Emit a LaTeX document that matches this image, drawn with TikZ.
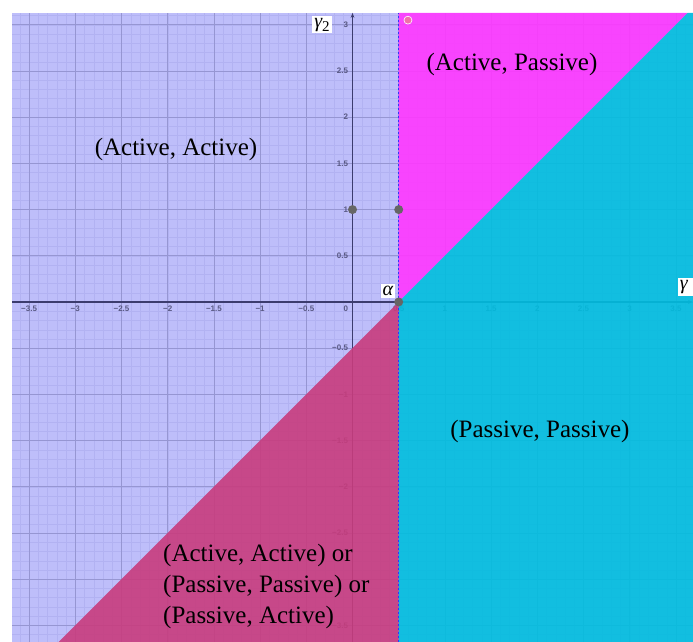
\documentclass[tikz,border=0pt]{standalone}
\usepackage{fontspec}
\setmainfont{Liberation Serif}
\newfontfamily\tickfont{Liberation Sans}
\usepackage{xcolor}
\usetikzlibrary{arrows.meta, positioning}

\definecolor{lavfill}{RGB}{190,190,250}
\definecolor{magfill}{RGB}{255,55,255}
\definecolor{cyanfill}{RGB}{0,190,222}
\definecolor{crimfill}{RGB}{200,60,125}
\definecolor{axisblue}{RGB}{60,60,110}
\definecolor{gridmajor}{RGB}{150,150,210}
\definecolor{gridminor}{RGB}{178,178,242}
\definecolor{iconpink}{RGB}{240,110,170}

\begin{document}
\begin{tikzpicture}[
  x=92.4pt, y=92.4pt,
  region/.style={
    fill opacity=0.9,
    draw=none
  },
  minorgrid/.style={
    draw=gridminor,
    line width=0.35pt
  },
  majorgrid/.style={
    draw=gridmajor,
    line width=0.7pt
  },
  axisline/.style={
    draw=axisblue,
    line width=1.1pt
  },
  ticklab/.style={
    font=\tickfont\fontsize{8}{9}\selectfont\bfseries,
    text=axisblue!85,
    inner sep=1.5pt
  },
  axislab/.style={
    fill=white,
    font=\fontsize{20}{21}\selectfont\itshape,
    inner sep=2pt
  },
  caselab/.style={
    font=\fontsize{25}{31}\selectfont,
    align=left,
    inner sep=0pt
  },
  gpoint/.style={
    circle,
    fill=black!60,
    inner sep=0pt,
    minimum size=9pt
  }
]

\useasboundingbox (-3.815,-3.68) rectangle (3.685,3.268);

% background of the plot
\fill[lavfill] (-3.685,-3.68) rectangle (3.685,3.128);

% grid
\draw[minorgrid, step=0.1] (-3.685,-3.68) grid (3.685,3.128);
\draw[majorgrid, step=0.5] (-3.685,-3.68) grid (3.685,3.128);

% axes
\draw[axisline, -{Stealth[length=5pt]}] (-3.685,0) -- (3.685,0);
\draw[axisline, -{Stealth[length=5pt]}] (0,-3.68) -- (0,3.128);

% tick labels
\foreach \v/\t in {-3.5/−3.5,-3/−3,-2.5/−2.5,-2/−2,-1.5/−1.5,-1/−1,-0.5/−0.5,
                   0.5/0.5,1/1,1.5/1.5,2/2,2.5/2.5,3/3,3.5/3.5}
  \node[ticklab, anchor=north] (xt\v) at (\v,-0.02) {\t};
\foreach \v/\t in {-3.5/−3.5,-2.5/−2.5,-2/−2,-1.5/−1.5,-1/−1,-0.5/−0.5,
                   0.5/0.5,1/1,1.5/1.5,2/2,2.5/2.5,3/3}
  \node[ticklab, anchor=east] (yt\v) at (-0.03,\v) {\t};
\node[ticklab, anchor=north east] (zero) at (-0.03,-0.02) {0};

% the four regions
\fill[region, magfill] (0.5,0) -- (0.5,3.128) -- (3.628,3.128) -- cycle;
\fill[region, cyanfill] (0.5,0) -- (3.628,3.128) -- (3.685,3.128)
  -- (3.685,-3.68) -- (0.5,-3.68) -- cycle;
\fill[region, crimfill] (0.5,0) -- (0.5,-3.68) -- (-3.18,-3.68) -- cycle;

% alpha line
\draw[blue!80, line width=1.1pt, dash pattern=on 2pt off 2pt]
  (0.5,-3.68) -- (0.5,3.128);

% points
\node[gpoint] (p01) at (0,1) {};
\node[gpoint] (p51) at (0.5,1) {};
\node[gpoint] (alphapt) at (0.5,0) {};
\node[circle, fill=iconpink, draw=white, line width=0.6pt,
  inner sep=0pt, minimum size=8pt] (icon) at (0.60,3.05) {};

% axis labels
\node[axislab] (g2) at (-0.33,3.0) {γ\raisebox{-4pt}{\upshape\fontsize{15}{16}\selectfont 2}};
\node[axislab] (alpha) at (0.384,0.119) {α};
\node[axislab, anchor=west] (g1) at (3.52,0.162) {γ\,\,\,};

% case labels
\node[caselab] (ap) at (1.726,2.565) {(Active, Passive)};
\node[caselab] (aa) at (-1.91,1.645) {(Active, Active)};
\node[caselab] (pp) at (2.029,-1.407) {(Passive, Passive)};
\node[caselab, anchor=west] (mixed) at (-2.051,-3.074)
{(Active, Active) or\\
(Passive, Passive) or\\
(Passive, Active)};

\end{tikzpicture}
\end{document}
